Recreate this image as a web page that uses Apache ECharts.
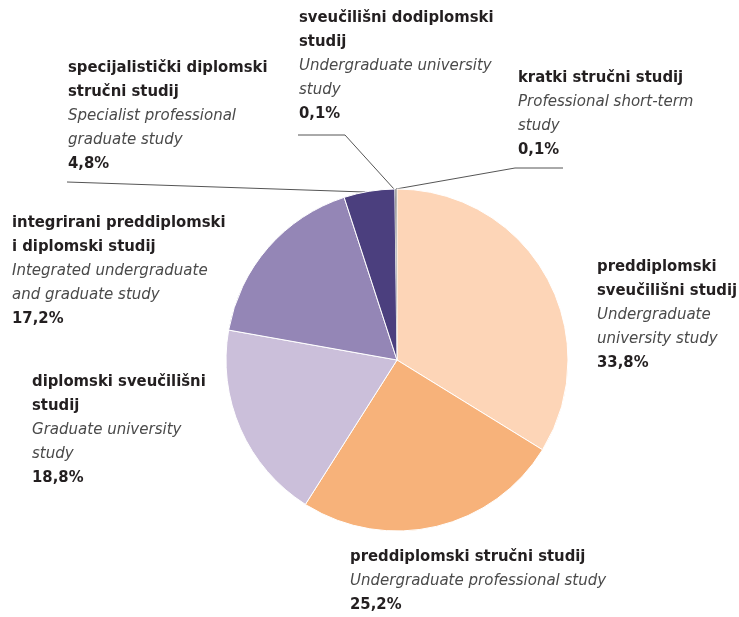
<!DOCTYPE html>
<html>
<head>
<meta charset="utf-8">
<script src="https://cdn.jsdelivr.net/npm/echarts@6/dist/echarts.min.js"></script>
<style>
  html, body { margin: 0; padding: 0; background: #fff; }
  #main { width: 739px; height: 617px; }
</style>
</head>
<body>
<div id="main"></div>
<script>
// podaci
var namesHr = [
  'preddiplomski\nsveučilišni studij',
  'preddiplomski stručni studij',
  'diplomski sveučilišni\nstudij',
  'integrirani preddiplomski\ni diplomski studij',
  'specijalistički diplomski\nstručni studij',
  'sveučilišni dodiplomski\nstudij',
  'kratki stručni studij'
];
var namesEn = [
  'Undergraduate\nuniversity study',
  'Undergraduate professional study',
  'Graduate university\nstudy',
  'Integrated undergraduate\nand graduate study',
  'Specialist professional\ngraduate study',
  'Undergraduate university\nstudy',
  'Professional short-term\nstudy'
];
var shares = [33.8, 25.2, 18.8, 17.2, 4.8, 0.1, 0.1];
var colors = ['#fdd5b7', '#f7b27a', '#cbbfda', '#9486b6', '#4b3f7e', '#9a9a9a', '#b5b5b5'];

// pozicije oznaka (gore lijevo)
var labelPos = [[597, 255], [350, 545], [32, 370], [12, 211], [68, 56], [299, 6], [518, 66]];
var linePts = {
  4: [[365, 192], [216, 187], [67, 182]],
  5: [[394, 189], [345, 135], [298, 135]],
  6: [[396, 189], [515, 168], [563, 168]]
};

var font = '"DejaVu Sans Condensed", "Liberation Sans Narrow", Roboto, sans-serif';

var myChart = echarts.init(document.getElementById('main'));

var data = shares.map(function (v, i) {
  return {
    value: v,
    name: namesHr[i],
    itemStyle: { color: colors[i], borderWidth: v < 1 ? 0 : 1 },
    labelLine: { show: !!linePts[i] }
  };
});

function tagLines(tag, txt) {
  return txt.split('\n').map(function (s) { return '{' + tag + '|' + s + '}'; }).join('\n');
}

var option = {
  animation: false,
  series: [{
    type: 'pie',
    center: [397, 360],
    radius: 171,
    startAngle: 90,
    clockwise: true,
    avoidLabelOverlap: false,
    itemStyle: { borderColor: '#fff' },
    label: {
      show: true,
      position: 'outside',
      formatter: function (p) {
        var i = p.dataIndex;
        return tagLines('b', namesHr[i]) + '\n' + tagLines('i', namesEn[i]) + '\n' +
          '{p|' + String(shares[i]).replace('.', ',') + '%}';
      },
      rich: {
        b: { fontFamily: font, fontWeight: 'bold', fontSize: 16.5, lineHeight: 24, color: '#231f20' },
        i: { fontFamily: font, fontStyle: 'italic', fontSize: 16.7, lineHeight: 24, color: '#4a4a4a' },
        p: { fontFamily: font, fontWeight: 'bold', fontSize: 16.5, lineHeight: 24, color: '#231f20' }
      }
    },
    labelLine: {
      show: false,
      lineStyle: { color: '#555', width: 1 }
    },
    labelLayout: function (params) {
      var i = params.dataIndex;
      var res = { x: labelPos[i][0], y: labelPos[i][1], align: 'left', verticalAlign: 'top' };
      if (linePts[i]) res.labelLinePoints = linePts[i];
      return res;
    },
    data: data
  }]
};

myChart.setOption(option);
</script>
</body>
</html>
